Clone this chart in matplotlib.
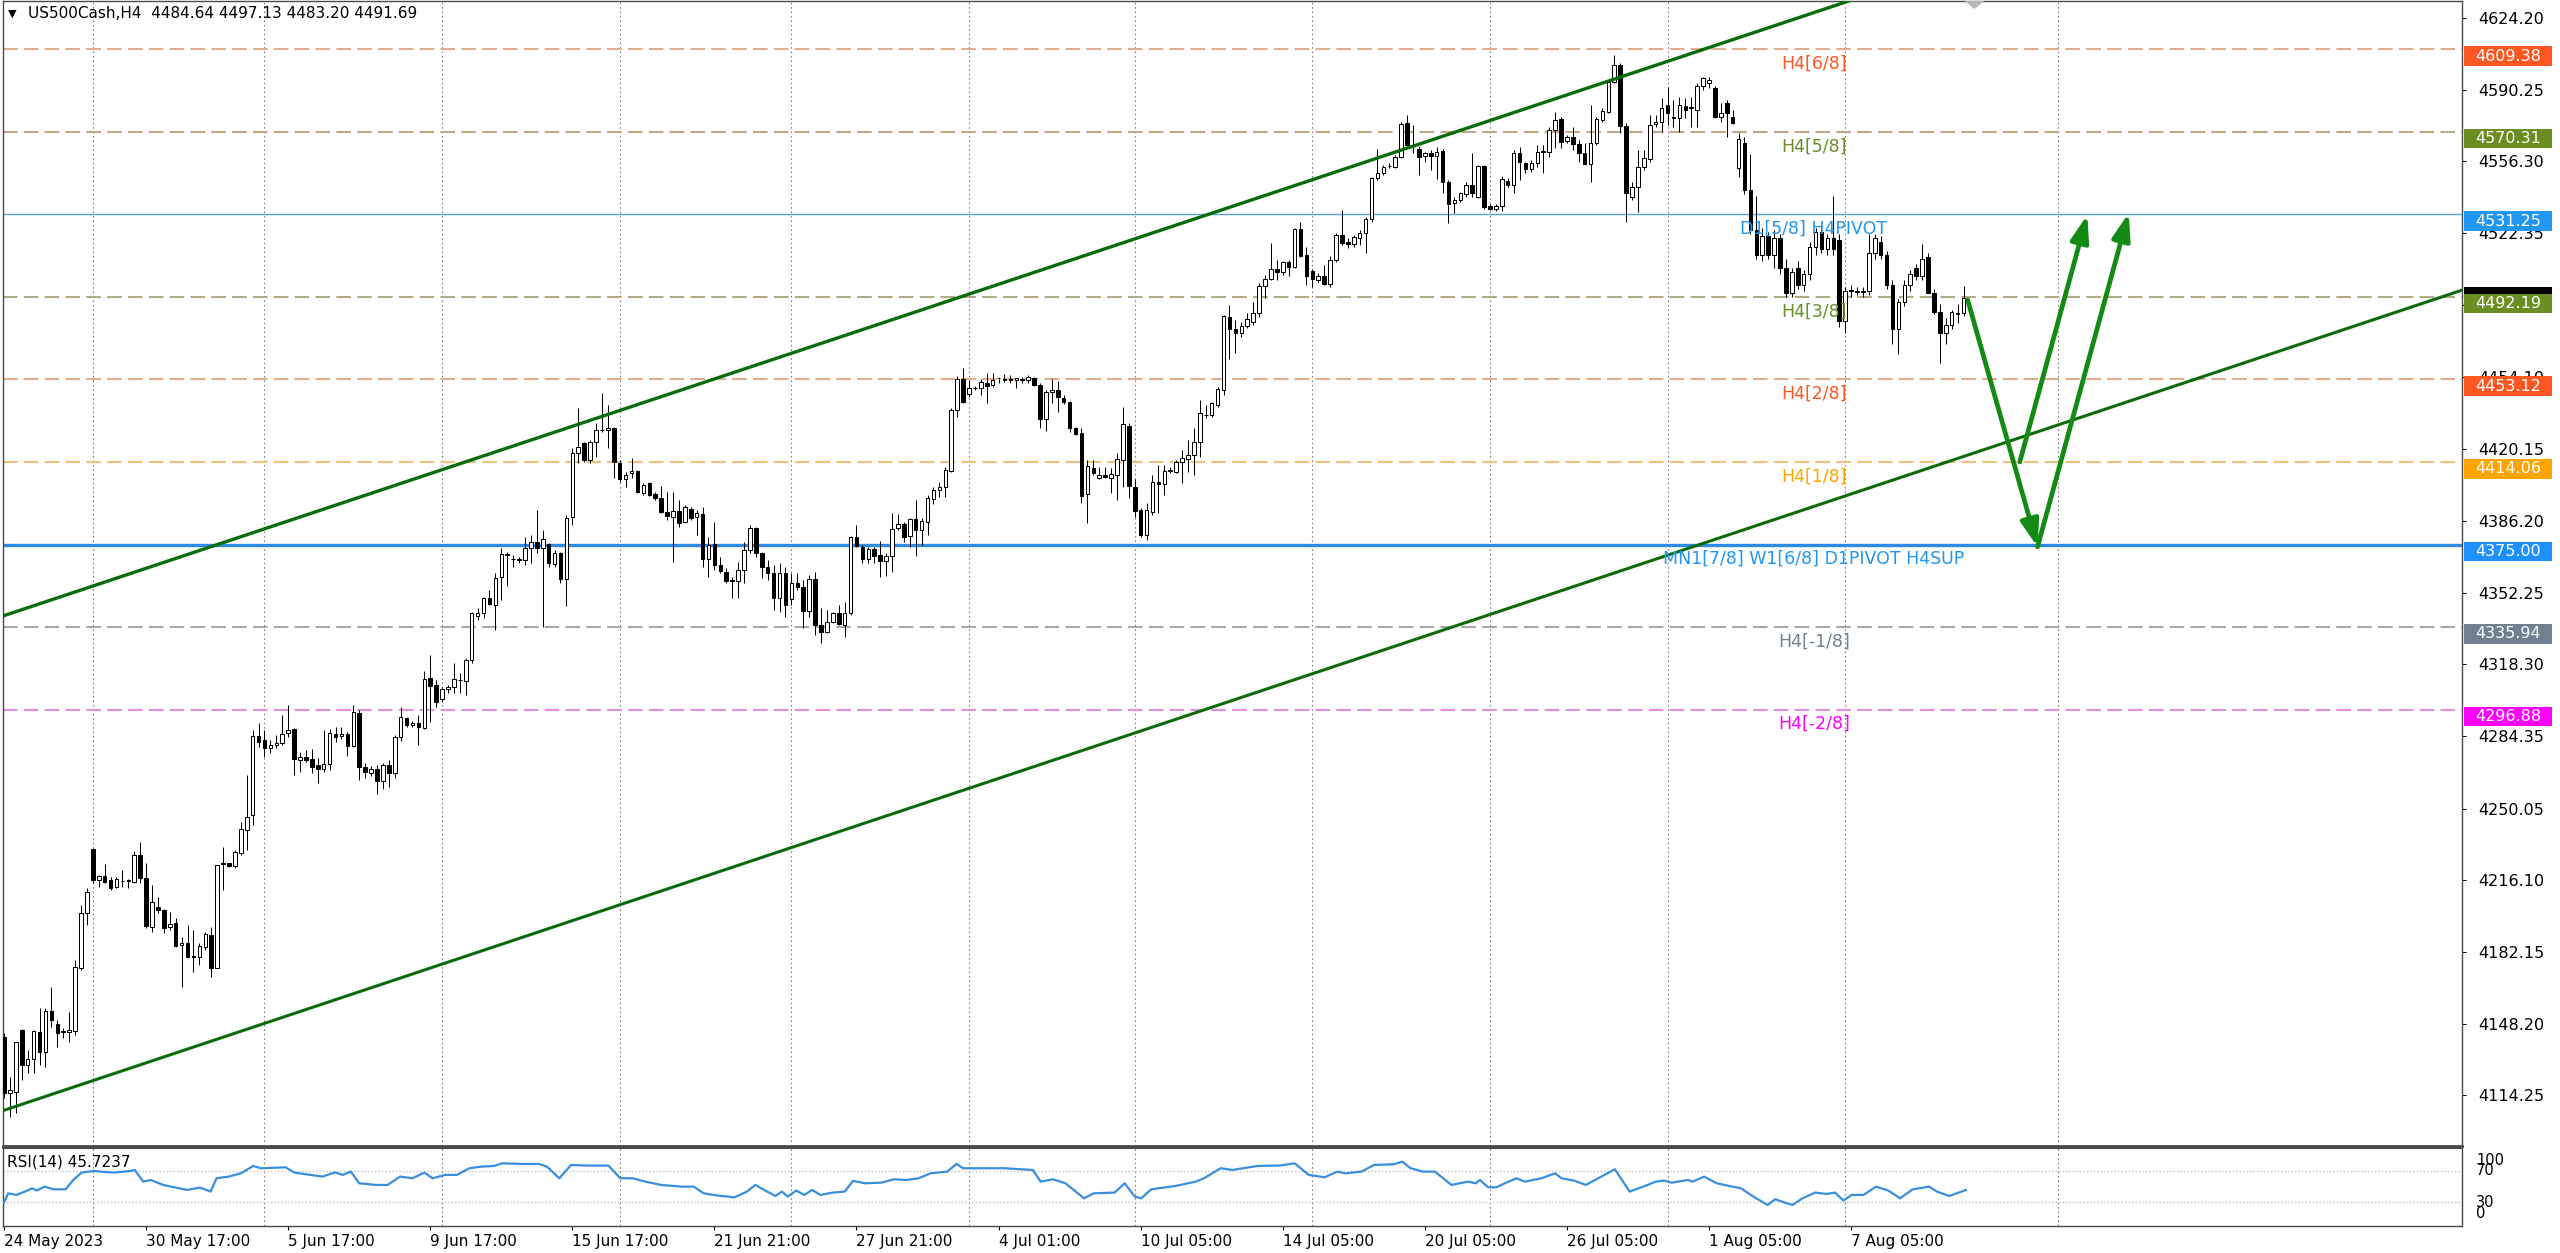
import numpy as np
import matplotlib
matplotlib.use("Agg")
import matplotlib.pyplot as plt
from matplotlib.patches import Rectangle, Polygon, FancyArrowPatch
import matplotlib.transforms as mtransforms

# ------------------------------------------------------------------ data
opens = [
4142.1, 4115.3, 4116.1, 4145.3, 4128.7, 4131.4, 4144.5, 4134.7, 4154.4, 4148.0,
4144.5, 4144.2, 4144.8, 4174.4, 4200.5, 4230.9, 4216.3, 4218.1, 4216.3, 4212.8,
4215.7, 4215.8, 4215.5, 4228.1, 4217.0, 4194.2, 4203.6, 4202.1, 4193.9, 4195.7,
4185.5, 4186.6, 4180.2, 4180.0, 4184.7, 4190.2, 4174.4, 4224.0, 4224.1, 4222.9,
4228.9, 4239.9, 4247.0, 4284.6, 4282.5, 4278.6, 4280.1, 4280.9, 4285.7, 4287.7,
4273.0, 4274.6, 4273.4, 4270.5, 4268.6, 4271.0, 4285.3, 4284.4, 4285.2, 4279.7,
4295.1, 4269.9, 4267.1, 4268.6, 4263.3, 4270.8, 4267.0, 4283.8, 4293.1, 4289.4,
4290.7, 4288.0, 4311.7, 4308.5, 4301.7, 4306.5, 4307.7, 4310.7, 4310.6, 4320.4,
4341.2, 4342.4, 4349.5, 4346.4, 4359.5, 4370.2, 4368.1, 4367.9, 4367.7, 4373.5,
4376.3, 4373.5, 4375.1, 4365.8, 4371.2, 4358.5, 4388.2, 4418.2, 4422.9, 4415.0,
4423.7, 4429.0, 4429.2, 4430.0, 4413.4, 4405.8, 4408.7, 4410.0, 4399.2, 4404.0,
4398.8, 4396.9, 4390.2, 4388.2, 4391.0, 4385.5, 4391.8, 4388.2, 4389.4, 4368.0,
4375.2, 4365.3, 4362.2, 4357.8, 4357.8, 4362.9, 4372.4, 4382.7, 4370.8, 4364.5,
4361.7, 4349.5, 4361.7, 4349.1, 4357.0, 4354.8, 4343.7, 4358.5, 4336.9, 4333.8,
4338.5, 4342.8, 4336.9, 4342.4, 4378.4, 4373.7, 4368.0, 4372.7, 4370.0, 4367.4,
4369.6, 4382.7, 4384.6, 4379.0, 4386.9, 4381.9, 4385.8, 4396.4, 4400.8, 4402.4,
4410.0, 4438.7, 4453.2, 4446.2, 4449.0, 4449.2, 4451.3, 4450.5, 4453.6, 4453.1,
4453.1, 4452.9, 4453.1, 4452.9, 4453.7, 4450.5, 4434.3, 4447.3, 4448.1, 4444.2,
4442.3, 4430.3, 4427.6, 4398.9, 4411.4, 4406.3, 4408.1, 4406.3, 4407.9, 4415.0,
4431.1, 4402.1, 4391.3, 4379.5, 4390.6, 4404.8, 4403.7, 4409.8, 4409.5, 4414.2,
4415.3, 4417.4, 4423.7, 4436.1, 4436.3, 4441.0, 4448.1, 4482.8, 4476.8, 4474.9,
4478.4, 4480.5, 4484.4, 4497.3, 4500.5, 4505.2, 4504.1, 4508.9, 4506.2, 4524.2,
4512.0, 4504.6, 4500.2, 4502.1, 4498.3, 4509.6, 4521.5, 4518.3, 4517.2, 4519.9,
4522.6, 4528.9, 4548.3, 4550.7, 4554.0, 4553.8, 4558.5, 4574.3, 4563.6, 4562.1,
4558.8, 4560.1, 4558.8, 4561.4, 4546.7, 4536.5, 4538.1, 4540.9, 4545.2, 4539.6,
4554.1, 4535.2, 4533.6, 4535.2, 4547.2, 4545.2, 4560.5, 4555.4, 4552.5, 4555.7,
4561.0, 4560.9, 4571.2, 4576.2, 4566.1, 4568.0, 4564.5, 4560.5, 4555.1, 4564.9,
4575.9, 4579.9, 4594.1, 4602.0, 4573.1, 4539.6, 4544.4, 4553.8, 4557.3, 4574.0,
4575.1, 4583.0, 4576.7, 4576.7, 4582.5, 4581.7, 4580.6, 4592.0, 4593.3, 4590.9,
4577.2, 4583.8, 4577.5, 4553.0, 4565.0, 4543.0, 4524.0, 4512.0, 4521.0, 4512.0,
4520.0, 4506.0, 4494.0, 4506.0, 4498.0, 4503.0, 4516.0, 4523.0, 4515.0, 4520.0,
4519.0, 4481.0, 4495.0, 4495.0, 4494.5, 4495.0, 4513.0, 4518.0, 4512.0, 4498.0,
4477.0, 4490.0, 4498.0, 4506.0, 4502.0, 4511.0, 4494.0, 4485.0, 4475.0, 4479.0,
4484.0, 4484.64]

highs = [
4144.0, 4123.2, 4139.8, 4145.5, 4135.8, 4145.3, 4155.5, 4155.5, 4165.8, 4150.0,
4146.1, 4153.9, 4178.4, 4204.4, 4212.6, 4231.5, 4218.6, 4223.7, 4217.8, 4217.8,
4221.0, 4216.6, 4230.0, 4234.1, 4224.1, 4213.9, 4208.4, 4202.5, 4201.3, 4198.1,
4189.4, 4195.0, 4192.6, 4186.3, 4191.8, 4194.2, 4223.4, 4232.0, 4224.5, 4230.5,
4243.9, 4265.9, 4287.2, 4290.4, 4287.2, 4282.5, 4284.9, 4294.3, 4299.1, 4288.0,
4277.0, 4277.8, 4278.1, 4273.8, 4287.2, 4287.7, 4288.8, 4288.5, 4286.5, 4299.1,
4296.7, 4271.5, 4270.0, 4270.7, 4271.5, 4273.0, 4284.9, 4298.3, 4293.5, 4291.6,
4294.3, 4315.3, 4322.7, 4310.9, 4307.7, 4308.5, 4318.8, 4314.0, 4321.2, 4343.2,
4344.8, 4350.3, 4353.5, 4361.4, 4373.2, 4371.6, 4370.0, 4369.3, 4378.7, 4379.5,
4391.3, 4381.9, 4375.5, 4372.4, 4371.5, 4389.0, 4420.5, 4439.5, 4423.7, 4424.5,
4432.4, 4446.6, 4441.0, 4430.8, 4415.0, 4409.5, 4415.8, 4410.3, 4404.0, 4404.8,
4400.0, 4402.7, 4400.0, 4400.0, 4396.1, 4393.7, 4392.9, 4391.3, 4392.9, 4378.7,
4385.8, 4369.3, 4363.8, 4359.8, 4366.9, 4376.4, 4384.2, 4383.5, 4371.6, 4367.7,
4365.3, 4366.1, 4364.5, 4361.4, 4361.4, 4358.2, 4360.6, 4362.2, 4344.8, 4344.0,
4343.2, 4346.4, 4348.0, 4378.9, 4384.2, 4374.8, 4374.0, 4374.0, 4376.8, 4370.8,
4390.1, 4389.5, 4385.8, 4387.4, 4396.1, 4387.4, 4398.4, 4402.4, 4404.8, 4411.8,
4439.5, 4454.8, 4458.4, 4452.9, 4450.0, 4453.2, 4456.0, 4456.0, 4454.2, 4455.7,
4455.2, 4454.0, 4454.4, 4455.2, 4454.2, 4451.3, 4448.1, 4453.2, 4452.6, 4445.8,
4443.1, 4430.8, 4430.0, 4415.0, 4415.0, 4411.8, 4411.8, 4411.0, 4418.5, 4440.3,
4432.7, 4405.9, 4392.1, 4394.5, 4407.9, 4412.6, 4412.6, 4411.8, 4415.0, 4419.7,
4424.5, 4430.0, 4443.4, 4441.0, 4442.6, 4449.7, 4483.6, 4488.4, 4481.3, 4480.5,
4484.4, 4489.9, 4498.6, 4502.6, 4517.5, 4509.7, 4509.4, 4509.7, 4524.6, 4527.8,
4515.9, 4505.2, 4503.3, 4507.3, 4511.5, 4522.3, 4533.3, 4519.9, 4521.5, 4523.9,
4530.2, 4549.1, 4562.1, 4554.6, 4555.4, 4559.3, 4575.1, 4578.3, 4573.5, 4563.6,
4560.9, 4561.7, 4563.3, 4562.1, 4547.5, 4539.6, 4542.0, 4546.7, 4560.1, 4554.6,
4554.6, 4536.1, 4536.4, 4549.4, 4548.3, 4561.7, 4563.3, 4556.2, 4557.0, 4564.1,
4564.1, 4572.4, 4579.9, 4577.5, 4568.8, 4572.7, 4566.4, 4564.9, 4583.0, 4577.5,
4581.4, 4594.9, 4606.7, 4602.7, 4574.3, 4546.7, 4561.7, 4561.7, 4578.3, 4578.3,
4586.2, 4591.7, 4585.4, 4587.0, 4586.2, 4587.0, 4593.3, 4596.1, 4596.1, 4592.0,
4583.8, 4585.4, 4580.6, 4570.0, 4568.0, 4560.0, 4540.0, 4525.0, 4523.0, 4524.0,
4522.0, 4510.0, 4506.0, 4509.0, 4505.0, 4518.0, 4525.0, 4526.0, 4522.0, 4540.0,
4522.0, 4497.0, 4498.0, 4497.0, 4497.0, 4522.0, 4522.0, 4521.0, 4514.0, 4500.0,
4491.0, 4500.0, 4505.0, 4508.0, 4517.0, 4513.0, 4496.0, 4489.0, 4482.0, 4486.0,
4489.0, 4497.13]

lows = [
4112.9, 4104.3, 4105.8, 4121.6, 4124.8, 4124.8, 4128.7, 4127.9, 4146.9, 4137.4,
4141.3, 4139.8, 4142.9, 4173.7, 4195.0, 4214.7, 4213.1, 4214.7, 4211.5, 4212.3,
4212.8, 4212.3, 4214.7, 4214.7, 4193.4, 4191.8, 4200.5, 4191.0, 4192.6, 4184.7,
4165.4, 4179.2, 4172.9, 4176.0, 4183.1, 4170.5, 4174.4, 4211.5, 4222.6, 4221.8,
4228.1, 4230.5, 4242.3, 4279.4, 4274.6, 4276.2, 4278.6, 4280.1, 4283.8, 4265.9,
4267.5, 4272.3, 4266.7, 4262.3, 4267.5, 4268.3, 4281.7, 4282.8, 4274.9, 4279.4,
4263.6, 4264.4, 4265.5, 4257.0, 4259.2, 4260.4, 4264.4, 4282.2, 4288.8, 4288.5,
4280.1, 4287.6, 4291.2, 4298.3, 4300.6, 4304.6, 4304.6, 4304.6, 4303.8, 4318.8,
4339.3, 4340.1, 4346.4, 4334.6, 4348.8, 4355.4, 4364.5, 4366.1, 4365.3, 4366.4,
4370.8, 4336.1, 4364.5, 4364.5, 4356.6, 4345.9, 4384.2, 4413.4, 4414.2, 4413.4,
4416.6, 4428.4, 4420.5, 4406.3, 4404.8, 4402.4, 4406.3, 4399.5, 4398.4, 4397.9,
4396.1, 4390.1, 4386.6, 4366.9, 4383.5, 4385.0, 4386.6, 4379.5, 4364.5, 4359.8,
4363.0, 4361.4, 4356.6, 4349.5, 4349.5, 4356.6, 4370.8, 4369.3, 4359.0, 4358.2,
4344.0, 4343.2, 4340.9, 4346.4, 4353.5, 4335.4, 4340.9, 4332.2, 4328.2, 4333.0,
4337.7, 4336.9, 4331.4, 4341.6, 4373.7, 4366.4, 4366.4, 4366.4, 4359.5, 4360.1,
4362.2, 4381.9, 4376.4, 4374.0, 4369.6, 4374.8, 4379.5, 4394.2, 4397.6, 4397.3,
4409.5, 4435.5, 4441.8, 4445.0, 4448.1, 4445.8, 4441.8, 4449.7, 4451.3, 4452.1,
4451.3, 4449.0, 4451.3, 4451.3, 4450.0, 4430.0, 4428.9, 4442.1, 4437.9, 4441.5,
4428.4, 4426.8, 4394.5, 4385.0, 4407.9, 4405.9, 4406.3, 4399.2, 4396.1, 4402.4,
4396.9, 4388.2, 4378.7, 4377.2, 4389.0, 4389.8, 4398.4, 4408.7, 4409.0, 4404.0,
4409.5, 4407.9, 4416.6, 4434.7, 4435.5, 4440.3, 4445.8, 4462.7, 4465.5, 4473.4,
4477.3, 4478.9, 4482.8, 4491.5, 4500.2, 4500.2, 4502.6, 4502.1, 4505.7, 4511.2,
4497.8, 4496.7, 4499.4, 4497.8, 4496.7, 4508.9, 4516.8, 4515.2, 4516.0, 4516.8,
4513.1, 4527.8, 4547.5, 4549.9, 4553.0, 4553.0, 4557.8, 4562.5, 4560.1, 4549.9,
4556.2, 4552.3, 4547.8, 4541.2, 4527.3, 4531.7, 4537.3, 4539.6, 4539.6, 4538.8,
4533.6, 4533.3, 4533.0, 4533.0, 4544.4, 4541.2, 4547.5, 4551.0, 4551.5, 4553.8,
4551.0, 4558.5, 4562.5, 4562.5, 4564.9, 4561.7, 4556.2, 4554.6, 4546.7, 4564.1,
4575.1, 4579.1, 4593.3, 4569.6, 4527.8, 4538.1, 4532.5, 4552.3, 4556.2, 4572.7,
4570.4, 4573.5, 4572.7, 4570.4, 4576.7, 4572.7, 4572.7, 4590.1, 4590.9, 4576.7,
4575.1, 4568.0, 4574.0, 4549.0, 4541.0, 4522.0, 4510.0, 4509.0, 4510.0, 4506.0,
4503.0, 4492.0, 4492.0, 4496.0, 4495.0, 4500.0, 4512.0, 4513.0, 4512.0, 4512.0,
4478.0, 4475.0, 4492.0, 4493.0, 4492.0, 4493.0, 4510.0, 4510.0, 4496.0, 4470.0,
4465.0, 4488.0, 4495.0, 4500.0, 4500.0, 4494.0, 4484.0, 4461.0, 4470.0, 4477.0,
4480.0, 4483.20]

closes = [
4115.3, 4116.9, 4139.8, 4128.7, 4131.4, 4144.8, 4135.0, 4154.3, 4150.0, 4144.0,
4144.8, 4145.3, 4174.9, 4200.5, 4210.4, 4216.3, 4218.1, 4215.5, 4212.3, 4216.6,
4215.9, 4216.0, 4228.1, 4217.0, 4194.5, 4206.0, 4202.1, 4193.4, 4195.3, 4185.2,
4186.6, 4180.0, 4180.0, 4185.0, 4190.7, 4174.4, 4223.4, 4224.1, 4222.9, 4229.3,
4240.2, 4246.2, 4284.4, 4281.7, 4278.6, 4280.1, 4280.9, 4285.3, 4287.2, 4273.4,
4274.6, 4273.0, 4269.9, 4268.6, 4271.0, 4285.7, 4283.8, 4285.3, 4279.7, 4295.9,
4269.6, 4267.5, 4268.6, 4263.3, 4270.7, 4267.0, 4283.8, 4293.5, 4289.6, 4290.7,
4288.8, 4311.2, 4308.1, 4300.6, 4306.5, 4307.7, 4311.2, 4310.9, 4320.4, 4342.4,
4342.4, 4349.5, 4346.7, 4359.0, 4370.5, 4370.4, 4368.0, 4368.0, 4373.5, 4376.0,
4373.5, 4377.6, 4366.1, 4371.2, 4358.5, 4387.4, 4418.2, 4421.3, 4415.0, 4423.7,
4429.2, 4429.2, 4430.3, 4414.2, 4405.8, 4407.9, 4410.0, 4400.0, 4403.2, 4398.4,
4397.2, 4390.6, 4388.7, 4391.0, 4385.0, 4392.9, 4387.7, 4389.8, 4368.0, 4374.8,
4365.3, 4362.5, 4357.8, 4357.9, 4362.9, 4372.4, 4382.7, 4370.8, 4364.2, 4361.7,
4349.5, 4361.7, 4346.4, 4357.0, 4355.1, 4343.7, 4358.5, 4336.9, 4333.8, 4338.5,
4342.8, 4337.2, 4342.8, 4378.4, 4374.3, 4368.0, 4372.7, 4369.6, 4367.4, 4369.6,
4382.2, 4384.6, 4378.7, 4386.9, 4381.9, 4386.3, 4396.9, 4400.8, 4402.4, 4410.3,
4438.7, 4453.2, 4442.6, 4449.2, 4449.2, 4451.8, 4450.0, 4452.9, 4453.7, 4453.2,
4453.2, 4453.7, 4453.2, 4454.4, 4450.5, 4434.3, 4447.3, 4448.1, 4444.7, 4442.6,
4430.3, 4427.3, 4398.0, 4412.2, 4409.0, 4408.1, 4406.8, 4408.4, 4415.3, 4431.9,
4402.7, 4391.0, 4379.5, 4391.3, 4404.8, 4403.7, 4410.0, 4410.0, 4414.2, 4415.8,
4417.4, 4423.7, 4437.4, 4436.3, 4441.8, 4448.5, 4483.2, 4476.8, 4474.9, 4478.4,
4481.6, 4484.4, 4497.3, 4500.5, 4505.2, 4504.1, 4508.9, 4506.5, 4524.2, 4511.6,
4502.1, 4500.5, 4502.1, 4498.3, 4509.6, 4521.5, 4517.5, 4517.2, 4520.7, 4522.6,
4528.9, 4548.3, 4551.0, 4553.8, 4554.1, 4558.5, 4574.0, 4564.1, 4563.6, 4558.3,
4560.1, 4558.8, 4560.9, 4546.7, 4536.2, 4538.1, 4541.2, 4545.2, 4541.2, 4554.1,
4534.9, 4533.6, 4535.2, 4547.8, 4545.2, 4560.5, 4556.2, 4552.5, 4555.7, 4560.9,
4561.2, 4571.2, 4575.9, 4565.7, 4567.7, 4564.5, 4560.5, 4555.1, 4564.9, 4576.2,
4580.3, 4594.1, 4602.0, 4573.1, 4541.2, 4544.4, 4553.8, 4557.8, 4573.5, 4575.1,
4581.4, 4579.1, 4577.5, 4583.0, 4580.6, 4581.9, 4592.0, 4595.6, 4594.8, 4577.2,
4579.4, 4579.1, 4574.7, 4567.0, 4543.0, 4524.0, 4512.0, 4521.0, 4512.0, 4520.0,
4506.0, 4494.0, 4504.0, 4498.0, 4503.0, 4516.0, 4523.0, 4515.0, 4520.0, 4515.0,
4481.0, 4495.0, 4495.5, 4494.5, 4495.0, 4513.0, 4520.0, 4512.0, 4498.0, 4477.0,
4490.0, 4498.0, 4503.0, 4502.0, 4510.0, 4494.0, 4485.0, 4475.0, 4479.0, 4485.0,
4484.6, 4491.69]

# RSI(14) (bar position, value)
rsi_x = [0.0, 0.7, 2.1, 3.5, 4.8, 5.5, 6.9, 8.3, 10.4, 11.7, 13.1, 15.2, 16.6, 18.6, 21.4, 22.1,
         23.5, 24.8, 26.9, 29.0, 31.0, 33.1, 34.9, 35.9, 37.9, 40.0, 42.1, 43.4, 47.6, 49.0, 51.7,
         53.8, 55.9, 57.2, 58.6, 60.0, 62.8, 64.8, 66.9, 69.0, 71.0, 72.4, 74.5, 76.5, 78.6, 80.7,
         82.8, 84.1, 87.6, 90.3, 91.7, 93.8, 95.8, 98.6, 102.1, 104.1, 106.2, 108.3, 111.0, 114.5,
         116.5, 118.2, 120.7, 123.4, 125.5, 126.9, 128.9, 130.3, 131.4, 132.4, 133.8, 135.2, 136.5,
         137.9, 140.0, 142.0, 143.4, 145.5, 148.2, 150.3, 152.4, 154.5, 156.5, 159.3, 160.9, 162.0,
         164.8, 168.9, 173.8, 175.1, 177.2, 179.3, 181.4, 182.4, 184.1, 187.6, 189.3, 191.0, 192.1,
         193.8, 197.9, 201.3, 202.7, 205.5, 207.5, 211.7, 215.5,
         218.0, 220.4, 223.1, 225.2, 226.6, 229.3, 231.4, 234.8, 236.2, 237.6, 239.7, 241.7, 244.5,
         247.3, 248.6, 249.3, 250.7, 252.1, 253.5, 255.5, 256.9, 259.7, 262.0, 263.1, 265.2, 267.2,
         269.3, 272.1, 274.6, 276.9, 279.0, 280.4, 281.7, 284.5, 285.2, 287.2, 289.3, 291.4, 293.4,
         295.5, 297.9, 299.2, 300.8, 302.1, 303.8, 305.9, 307.9, 309.3, 310.7, 312.1, 314.1, 316.2,
         318.3, 320.3, 322.4, 325.2, 326.5, 328.6, 331.4]
rsi_v = [29.6, 41.5, 39.4, 43.7, 47.9, 45.0, 50.0, 46.6, 46.6, 58.5, 68.0, 70.0, 69.0, 68.0, 70.0, 71.3,
         56.4, 58.5, 52.2, 48.8, 45.8, 48.8, 43.7, 60.7, 62.8, 67.0, 76.4, 73.5, 74.7, 68.0, 65.0,
         62.8, 68.3, 65.0, 69.2, 54.3, 52.2, 52.2, 62.8, 60.7, 68.0, 60.7, 65.0, 65.0, 73.5, 75.6,
         76.4, 79.8, 79.0, 79.0, 75.6, 60.7, 77.7, 76.9, 76.9, 60.7, 60.7, 56.4, 52.2, 50.0,
         50.0, 41.5, 38.5, 36.4, 43.7, 52.2, 43.7, 38.1, 43.7, 37.3, 45.0, 39.4, 45.8,
         39.4, 42.4, 43.7, 57.3, 54.3, 55.1, 59.4, 58.5, 60.7, 67.0, 69.2, 79.0, 73.5,
         73.5, 73.5, 71.3, 56.4, 59.4, 54.3, 41.5, 35.1, 41.5, 42.4, 54.3, 37.3, 35.1,
         46.6, 50.9, 56.4, 60.7, 73.5, 71.3, 76.4, 77.0,
         79.8, 65.0, 62.0, 69.2, 67.0, 69.2, 77.7, 78.6, 82.0, 73.5, 69.2, 69.2, 52.2,
         56.4, 54.3, 58.5, 49.2, 49.2, 54.3, 60.7, 56.4, 60.7, 67.0, 60.7, 57.7, 52.2,
         60.7, 72.2, 43.7, 50.0, 56.4, 57.7, 55.1, 58.5, 56.4, 62.8, 54.3, 50.9, 47.9,
         37.3, 26.6, 33.9, 29.6, 26.6, 35.1, 42.4, 40.7, 42.4, 32.2, 39.4, 39.4, 50.0,
         45.0, 35.1, 46.6, 50.0, 43.7, 38.1, 45.7]

price_ticks = [4624.20, 4590.25, 4556.30, 4522.35, 4488.40, 4454.10, 4420.15, 4386.20,
               4352.25, 4318.30, 4284.35, 4250.05, 4216.10, 4182.15, 4148.20, 4114.25]

time_label_bars = [0, 24, 48, 72, 96, 120, 144, 168, 192, 216, 240, 264, 288, 312]
time_labels = ["24 May 2023", "30 May 17:00", "5 Jun 17:00", "9 Jun 17:00", "15 Jun 17:00",
               "21 Jun 21:00", "27 Jun 21:00", "4 Jul 01:00", "10 Jul 05:00", "14 Jul 05:00",
               "20 Jul 05:00", "26 Jul 05:00", "1 Aug 05:00", "7 Aug 05:00"]
grid_bars = [15, 44, 74, 104, 133, 163, 191, 221, 251, 281, 311, 347]

level_prices = [4609.38, 4570.31, 4531.25, 4492.19, 4453.12, 4414.06, 4375.00, 4335.94, 4296.88]
level_names = ["H4[6/8]", "H4[5/8]", "D1[5/8] H4PIVOT", "H4[3/8]", "H4[2/8]", "H4[1/8]",
               "MN1[7/8] W1[6/8] D1PIVOT H4SUP", "H4[-1/8]", "H4[-2/8]"]

upper_channel = [(-0.7, 4340.7), (312.1, 4632.7)]
lower_channel = [(-0.7, 4106.6), (269.3, 4359.0)]

arrow_from = [(331.7, 4490.7), (340.5, 4414.1), (343.5, 4373.9)]
arrow_to = [(343.5, 4373.9), (351.9, 4531.0), (358.9, 4531.9)]

rsi_levels = [70, 30]
rsi_scale_labels = ["100", "70", "30", "0"]
rsi_scale_pos = [82.8, 70, 30, 15.1]

title_text = "US500Cash,H4  4484.64 4497.13 4483.20 4491.69"
rsi_title = "RSI(14) 45.7237"

# ------------------------------------------------------------------ styles
level_line_colors = ['#e2ac8e', '#b9aa88', '#5aa3e3', '#b0ab86', '#e2ac8e', '#f0c27c',
                     '#2b8be6', '#a8a8a8', '#e38ee3']
level_line_styles = ['dash', 'dash', 'thin', 'dash', 'dash', 'dash', 'thick', 'dash', 'dash']
level_box_colors = ['#ff5722', '#6b8e23', '#2196f3', '#6b8e23', '#ff5722', '#ffa500',
                    '#1e90ff', '#708090', '#ff00ff']
level_text_colors = ['#ff5722', '#6b8e23', '#2196f3', '#6b8e23', '#ff5722', '#ffa500',
                     '#2196f3', '#708090', '#ff00ff']

plt.rcParams['font.family'] = ['DejaVu Sans']

W, H = 2560, 1253
fig = plt.figure(figsize=(W / 100, H / 100), dpi=100)
fig.patch.set_facecolor('white')
PX = 0.72  # points per pixel

L, R = 3, 2462
MAIN_TOP, MAIN_BOT = 1, 1146
RSI_TOP, RSI_BOT = 1147.5, 1225.8
ax = fig.add_axes([L / W, 1 - MAIN_BOT / H, (R - L) / W, (MAIN_BOT - MAIN_TOP) / H])
axr = fig.add_axes([L / W, 1 - RSI_BOT / H, (R - L) / W, (RSI_BOT - RSI_TOP) / H])

XMIN, XMAX = -0.17, 415.2
YMIN, YMAX = 4090.35, 4632.24
ax.set_xlim(XMIN, XMAX)
ax.set_ylim(YMIN, YMAX)
axr.set_xlim(XMIN, XMAX)
axr.set_ylim(0, 100)
px_per_unit = (MAIN_BOT - MAIN_TOP) / (YMAX - YMIN)

for a in (ax, axr):
    for s in a.spines.values():
        s.set_color('#4a4a4a')
        s.set_linewidth(1.0)
ax.spines['bottom'].set_linewidth(2.0)
axr.spines['top'].set_linewidth(1.5)

# grid
for g in grid_bars:
    for a in (ax, axr):
        a.axvline(g, color='#808080', lw=0.8, ls=(0, (1.5, 2.5)), zorder=1)

# level lines
for p, col, sty in zip(level_prices, level_line_colors, level_line_styles):
    if sty == 'dash':
        ax.axhline(p, color=col, lw=1.5, ls=(0, (7, 3)), zorder=2)
    elif sty == 'thin':
        ax.axhline(p, color=col, lw=1.0, zorder=2)
    else:
        ax.axhline(p, color=col, lw=2.4, zorder=2)

# candles
o = np.array(opens); h = np.array(highs); lo = np.array(lows); c = np.array(closes)
xs = np.arange(len(o))
ax.vlines(xs, lo, h, color='black', lw=1.0 * PX, zorder=3)
up = c >= o
body_bottom = np.minimum(o, c)
body_h = np.maximum(np.abs(c - o), 0.3)
ax.bar(xs, body_h, bottom=body_bottom, width=0.6,
       color=np.where(up, 'white', 'black'), edgecolor='black', linewidth=1.0 * PX, zorder=4)

# channel lines
ax.axline(upper_channel[0], upper_channel[1], color='#0b6b0b', lw=2.4, zorder=5)
ax.axline(lower_channel[0], lower_channel[1], color='#0b6b0b', lw=2.2, zorder=5)

# arrows
for a0, a1 in zip(arrow_from, arrow_to):
    arr = FancyArrowPatch(a0, a1, arrowstyle='-|>,head_length=1.6,head_width=0.55',
                          mutation_scale=10, color='#138a13', lw=3.4,
                          shrinkA=0, shrinkB=0, zorder=6)
    ax.add_patch(arr)

# level labels on chart
label_x = (1814 - L) / (R - L)
for p, name, col in zip(level_prices, level_names, level_text_colors):
    ax.annotate(name, xy=(label_x, p), xycoords=('axes fraction', 'data'),
                xytext=(0, -4), textcoords='offset points', ha='center', va='top',
                color=col, fontsize=12.5, zorder=7)

# price axis
ax.yaxis.tick_right()
ax.set_yticks(price_ticks)
ax.set_yticklabels([f"{v:.2f}" for v in price_ticks])
ax.tick_params(axis='y', direction='out', length=3, width=0.8, pad=9, labelsize=11.5,
               colors='black')
ax.set_xticks([])

# price boxes (MT4 draws them from just above the level down)
bt = mtransforms.blended_transform_factory(ax.transAxes, ax.transData)
bx0 = (2464 - L) / (R - L)
bx1 = (2552 - L) / (R - L)
box_up = 3.0 / px_per_unit
box_dn = 16.5 / px_per_unit
cur = closes[-1]
cur_half = 10.5 / px_per_unit
ax.add_patch(Rectangle((bx0, cur - cur_half), bx1 - bx0, 2 * cur_half, transform=bt,
                       facecolor='black', edgecolor='none', clip_on=False, zorder=8))
for p, col in zip(level_prices, level_box_colors):
    ax.add_patch(Rectangle((bx0, p - box_dn), bx1 - bx0, box_up + box_dn, transform=bt,
                           facecolor=col, edgecolor='none', clip_on=False, zorder=9))
    ax.text((bx0 + bx1) / 2, p - (box_dn - box_up) / 2, f"{p:.2f}", transform=bt,
            ha='center', va='center', color='white', fontsize=11.5, zorder=10, clip_on=False)

# shift marker at top
tri_h = 8 / px_per_unit
ax.add_patch(Polygon([(331.2, YMAX), (334.5, YMAX), (332.85, YMAX - tri_h)],
                     closed=True, facecolor='#b8b8b8', edgecolor='none', zorder=6))

# title
fig.text(8 / W, 1 - 13.5 / H, "\u25BC", fontsize=8, va='center', ha='left', color='black')
fig.text(28 / W, 1 - 13.5 / H, title_text, fontsize=11, va='center', ha='left', color='black')

# RSI panel
axr.plot(rsi_x, rsi_v, color='#3a8fdc', lw=1.6, zorder=3)
for lv in rsi_levels:
    axr.axhline(lv, color='#c4c4c4', lw=1.0, ls=(0, (1, 1.5)), zorder=2)
axr.set_yticks([])
axr.set_xticks(time_label_bars)
axr.set_xticklabels(time_labels, ha='left')
axr.tick_params(axis='x', direction='out', length=3, width=0.8, pad=3, labelsize=11,
                colors='black')
rt = mtransforms.blended_transform_factory(axr.transAxes, axr.transData)
for lab, pos in zip(rsi_scale_labels, rsi_scale_pos):
    axr.text((2476 - L) / (R - L), pos, lab, transform=rt, ha='left', va='center',
             fontsize=10.5, clip_on=False)
axr.text((7 - L) / (R - L), 0.815, rsi_title, transform=axr.transAxes, ha='left',
         va='center', fontsize=11)

fig.savefig("out.png", dpi=100, facecolor='white')
